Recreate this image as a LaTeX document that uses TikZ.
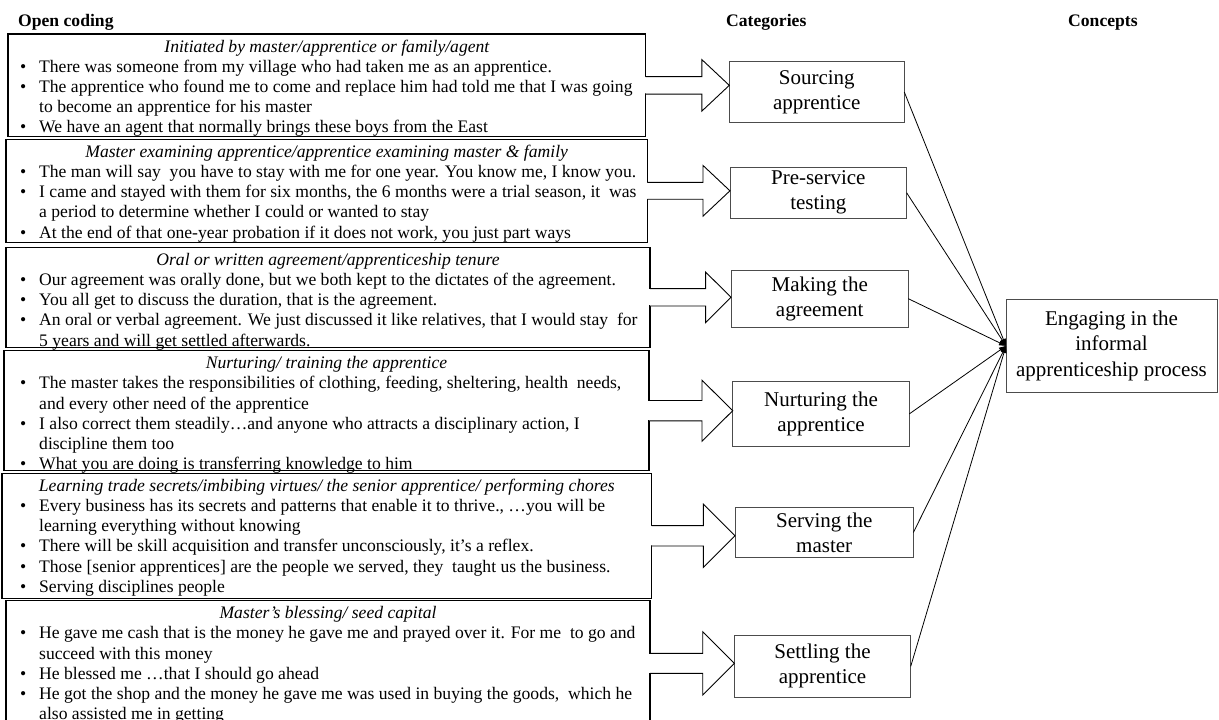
\documentclass[tikz,border=0pt]{standalone}
\usepackage{fontspec}
\setmainfont{Liberation Serif}
\usetikzlibrary{arrows.meta,calc}

% one bulleted line / one continuation line of a quotation list
\newcommand\qbul[1]{\hbox{\llap{\textbullet\hspace{13pt}}#1}}
\newcommand\qcon[1]{\hbox{#1}}
\newcommand\qbody[1]{\vtop{\baselineskip=20.3pt\lineskiplimit=-100pt\lineskip=0pt #1}}

% block arrow from a code box to its category box
% #1 code box, #2 category box, #3 half shaft, #4 half head, #5 head length
\newcommand\qarrow[5]{%
  \coordinate (#1-s) at (#1.east);
  \coordinate (#1-t) at (#1.east -| #2.west);
  \fill[white] ($(#1-s)+(-1.5,-#3+0.7)$) rectangle ($(#1-s)+(1.5,#3-0.7)$);
  \fill[white] ($(#1-s)+(0,-#3)$) -- ($(#1-t)+(-#5,-#3)$) -- ($(#1-t)+(-#5,-#4)$) -- (#1-t)
    -- ($(#1-t)+(-#5,#4)$) -- ($(#1-t)+(-#5,#3)$) -- ($(#1-s)+(0,#3)$) -- cycle;
  \draw[blk] ($(#1-s)+(0,-#3)$) -- ($(#1-t)+(-#5,-#3)$) -- ($(#1-t)+(-#5,-#4)$) -- (#1-t)
    -- ($(#1-t)+(-#5,#4)$) -- ($(#1-t)+(-#5,#3)$) -- ($(#1-s)+(0,#3)$);
}

\begin{document}
\begin{tikzpicture}[x=1pt,y=-1pt,
  qbox/.style={draw=black, line width=1.1pt, outer sep=0pt, inner sep=0pt, anchor=north west},
  cat/.style={draw=black!70, line width=0.9pt, outer sep=0pt, inner sep=0pt, align=center,
              font=\fontsize{21}{25}\selectfont},
  hdr/.style={font=\bfseries\fontsize{17.6}{20}\selectfont, anchor=base west, inner sep=0pt},
  ital/.style={font=\itshape\fontsize{17.6}{20}\selectfont, anchor=base, inner sep=0pt},
  body/.style={font=\fontsize{17.6}{20.3}\selectfont, anchor=base west, inner sep=0pt},
  blk/.style={draw=black, line width=0.9pt, line join=miter},
  link/.style={draw=black, line width=0.8pt, -{Triangle[length=7pt,width=5pt]}}]

\useasboundingbox (0,0) rectangle (1219,720);

% column headings
\node[hdr] (hOpen) at (18,27) {Open coding};
\node[hdr] (hCat) at (726,27) {Categories};
\node[hdr] (hCon) at (1068,27) {Concepts};

% open-coding boxes
\node[qbox, minimum width=637.7pt, minimum height=102.7pt] (b1) at (8,34) {};
\node[qbox, minimum width=641.3pt, minimum height=103pt]   (b2) at (6,139.3) {};
\node[qbox, minimum width=644pt,   minimum height=100pt]   (b3) at (6,247.3) {};
\node[qbox, minimum width=645pt,   minimum height=120pt]   (b4) at (4,350.7) {};
\node[qbox, minimum width=649.7pt, minimum height=125pt]   (b5) at (2,473.3) {};
\node[qbox, minimum width=644pt,   minimum height=125.3pt] (b6) at (6,600.7) {};

% categories
\node[cat, minimum width=175pt,   minimum height=60.6pt] (c1) at (816.8,92)    {Sourcing\\apprentice};
\node[cat, minimum width=176.7pt, minimum height=51pt]   (c2) at (818.3,192.8) {Pre-service\\testing};
\node[cat, minimum width=177.3pt, minimum height=57.3pt] (c3) at (819.7,298.7) {Making the\\agreement};
\node[cat, minimum width=176.6pt, minimum height=64.3pt] (c4) at (821,413.9)   {Nurturing the\\apprentice};
\node[cat, minimum width=178.3pt, minimum height=49.6pt] (c5) at (824.2,532.5) {Serving the\\master};
\node[cat, minimum width=176.4pt, minimum height=62.7pt] (c6) at (822.5,666.4) {Settling the\\apprentice};

% concept
\node[cat, minimum width=211pt, minimum height=93.7pt, font=\fontsize{21}{25.5}\selectfont]
  (k) at (1111.5,345.9) {Engaging in the\\informal\\apprenticeship process};

% block arrows
\qarrow{b1}{c1}{8.7}{25.8}{27.5}
\qarrow{b2}{c2}{8.4}{25.4}{27}
\qarrow{b3}{c3}{8.7}{25.3}{25.5}
\qarrow{b4}{c4}{10.2}{30.5}{30.7}
\qarrow{b5}{c5}{10.2}{31.7}{31.7}
\qarrow{b6}{c6}{10}{31.7}{31.6}

% links to the concept
\foreach \c in {c1,c2,c3,c4,c5,c6} \draw[link] (\c.east) -- (k.west);

% box 1
\node[ital] (t1) at ([yshift=-18pt]b1.north) {Initiated by master/apprentice or family/agent};
\node[body] (q1) at (39,72) {\qbody{%
  \qbul{There was someone from my village who had taken me as an apprentice.}
  \qbul{The apprentice who found me to come and replace him had told me that I was going}
  \qcon{to become an apprentice for his master}
  \qbul{We have an agent that normally brings these boys from the East}}};

% box 2
\node[ital] (t2) at ([yshift=-18pt]b2.north) {Master examining apprentice/apprentice examining master \& family};
\node[body] (q2) at (39,177.3) {\qbody{%
  \qbul{The man will say\ \ you have to stay with me for one year. You know me, I know you.}
  \qbul{I came and stayed with them for six months, the 6 months were a trial season, it\ \ was}
  \qcon{a period to determine whether I could or wanted to stay}
  \qbul{At the end of that one-year probation if it does not work, you just part ways}}};

% box 3
\node[ital] (t3) at ([yshift=-18pt]b3.north) {Oral or written agreement/apprenticeship tenure};
\node[body] (q3) at (39,285.3) {\qbody{%
  \qbul{Our agreement was orally done, but we both kept to the dictates of the agreement.}
  \qbul{You all get to discuss the duration, that is the agreement.}
  \qbul{An oral or verbal agreement. We just discussed it like relatives, that I would stay\ \ for}
  \qcon{5 years and will get settled afterwards.}}};

% box 4
\node[ital] (t4) at ([yshift=-18pt]b4.north) {Nurturing/ training the apprentice};
\node[body] (q4) at (39,388.7) {\qbody{%
  \qbul{The master takes the responsibilities of clothing, feeding, sheltering, health\ \ needs,}
  \qcon{and every other need of the apprentice}
  \qbul{I also correct them steadily…and anyone who attracts a disciplinary action, I}
  \qcon{discipline them too}
  \qbul{What you are doing is transferring knowledge to him}}};

% box 5
\node[ital] (t5) at ([yshift=-18pt]b5.north) {Learning trade secrets/imbibing virtues/ the senior apprentice/ performing chores};
\node[body] (q5) at (39,511.3) {\qbody{%
  \qbul{Every business has its secrets and patterns that enable it to thrive., …you will be}
  \qcon{learning everything without knowing}
  \qbul{There will be skill acquisition and transfer unconsciously, it’s a reflex.}
  \qbul{Those [senior apprentices] are the people we served, they\ \ taught us the business.}
  \qbul{Serving disciplines people}}};

% box 6
\node[ital] (t6) at ([yshift=-18pt]b6.north) {Master’s blessing/ seed capital};
\node[body] (q6) at (39,638.7) {\qbody{%
  \qbul{He gave me cash that is the money he gave me and prayed over it. For me\ \ to go and}
  \qcon{succeed with this money}
  \qbul{He blessed me …that I should go ahead}
  \qbul{He got the shop and the money he gave me was used in buying the goods,\ \ which he}
  \qcon{also assisted me in getting}}};

\end{tikzpicture}
\end{document}
